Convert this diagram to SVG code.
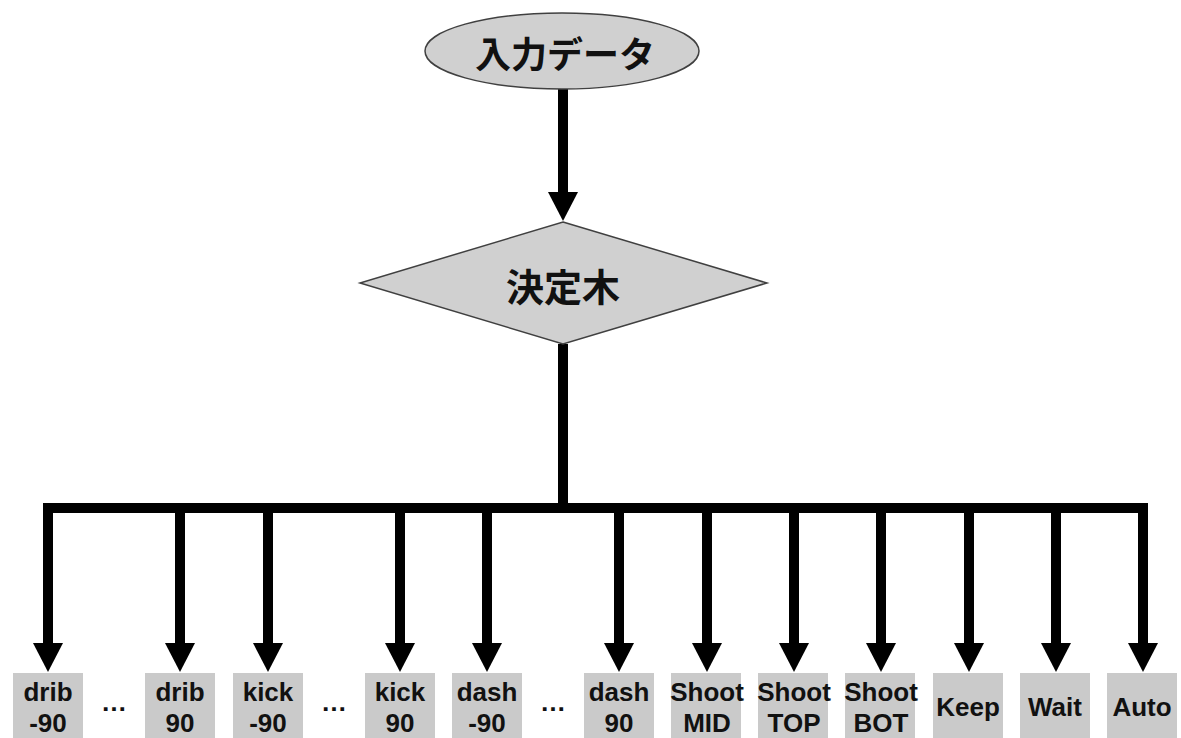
<svg xmlns="http://www.w3.org/2000/svg" width="1181" height="738" viewBox="0 0 1181 738">
<style>
.shape{fill:#d0d0d0;stroke:#404040;stroke-width:1.5}
.box{fill:#cacaca}
.jp{font-family:"Noto Sans CJK JP","Noto Sans",sans-serif;font-weight:bold;fill:#111;text-anchor:middle}
.lb{font-family:"Liberation Sans",Arial,sans-serif;font-weight:bold;font-size:26px;fill:#111;text-anchor:middle}
.ln{fill:none;stroke:#000;stroke-width:10;stroke-linejoin:miter}
.ar{marker-end:url(#ah)}
</style>
<defs>
<marker id="ah" markerUnits="userSpaceOnUse" markerWidth="30" markerHeight="30" refX="0" refY="15" orient="auto" overflow="visible">
<path d="M0,0 L29,15 L0,30 Z" fill="#000"/>
</marker>
</defs>
<rect width="1181" height="738" fill="#fff"/>
<g id="connectors">
<path class="ln ar" d="M563,89 V192"/>
<path class="ln" d="M563,344 V508"/>
<path class="ln" d="M48,520 V508 H1143 V520"/>
<path class="ln ar" d="M48,508 V643"/>
<path class="ln ar" d="M180,508 V643"/>
<path class="ln ar" d="M268,508 V643"/>
<path class="ln ar" d="M400,508 V643"/>
<path class="ln ar" d="M487,508 V643"/>
<path class="ln ar" d="M619,508 V643"/>
<path class="ln ar" d="M707,508 V643"/>
<path class="ln ar" d="M794,508 V643"/>
<path class="ln ar" d="M881,508 V643"/>
<path class="ln ar" d="M969,508 V643"/>
<path class="ln ar" d="M1056,508 V643"/>
<path class="ln ar" d="M1143,508 V643"/>
</g>
<g id="input">
<ellipse class="shape" cx="562" cy="51" rx="137" ry="38"/>
<text class="jp" x="565" y="68" font-size="36">入力データ</text>
</g>
<g id="tree">
<polygon class="shape" points="563,222 767,283 563,344 360,283"/>
<text class="jp" x="563" y="301" font-size="38">決定木</text>
</g>
<g id="drib-m90"><rect class="box" x="13" y="673" width="70" height="70"/><text class="lb" x="48" y="701">drib</text><text class="lb" x="48" y="732">-90</text></g>
<g id="dots1"><text class="lb" x="114" y="711">…</text></g>
<g id="drib-90"><rect class="box" x="145" y="673" width="70" height="70"/><text class="lb" x="180" y="701">drib</text><text class="lb" x="180" y="732">90</text></g>
<g id="kick-m90"><rect class="box" x="233" y="673" width="70" height="70"/><text class="lb" x="268" y="701">kick</text><text class="lb" x="268" y="732">-90</text></g>
<g id="dots2"><text class="lb" x="334" y="711">…</text></g>
<g id="kick-90"><rect class="box" x="365" y="673" width="70" height="70"/><text class="lb" x="400" y="701">kick</text><text class="lb" x="400" y="732">90</text></g>
<g id="dash-m90"><rect class="box" x="452" y="673" width="70" height="70"/><text class="lb" x="487" y="701">dash</text><text class="lb" x="487" y="732">-90</text></g>
<g id="dots3"><text class="lb" x="553" y="711">…</text></g>
<g id="dash-90"><rect class="box" x="584" y="673" width="70" height="70"/><text class="lb" x="619" y="701">dash</text><text class="lb" x="619" y="732">90</text></g>
<g id="shoot-mid"><rect class="box" x="671" y="673" width="70" height="70"/><text class="lb" x="707" y="701">Shoot</text><text class="lb" x="707" y="732">MID</text></g>
<g id="shoot-top"><rect class="box" x="758" y="673" width="70" height="70"/><text class="lb" x="794" y="701">Shoot</text><text class="lb" x="794" y="732">TOP</text></g>
<g id="shoot-bot"><rect class="box" x="845" y="673" width="70" height="70"/><text class="lb" x="881" y="701">Shoot</text><text class="lb" x="881" y="732">BOT</text></g>
<g id="keep"><rect class="box" x="933" y="673" width="70" height="70"/><text class="lb" x="968" y="716">Keep</text></g>
<g id="wait"><rect class="box" x="1020" y="673" width="70" height="70"/><text class="lb" x="1055" y="716">Wait</text></g>
<g id="auto"><rect class="box" x="1107" y="673" width="70" height="70"/><text class="lb" x="1142" y="716">Auto</text></g>
</svg>
